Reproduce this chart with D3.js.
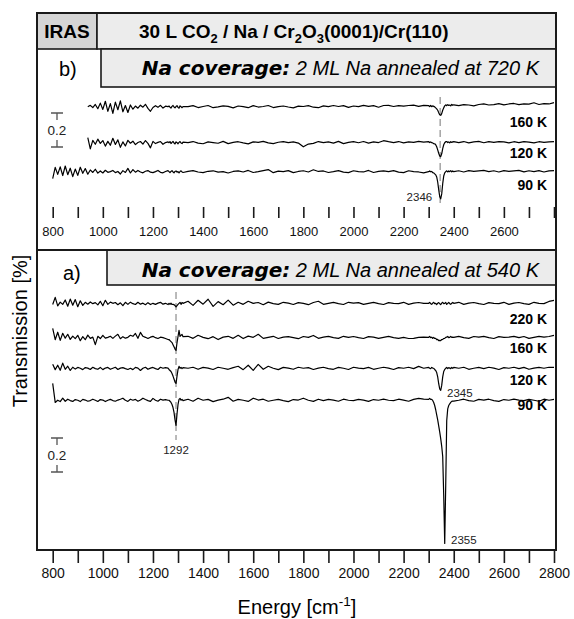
<!doctype html>
<html lang="en">
<head>
<meta charset="utf-8">
<title>IRAS 30 L CO2 / Na / Cr2O3(0001)/Cr(110)</title>
<style>
  body { margin: 0; background: #fff; }
  svg { display: block; font-family: "Liberation Sans", Arial, sans-serif; }
  .frame { fill: none; stroke: #1a1a1a; stroke-width: 2; }
  .box { stroke: #1a1a1a; stroke-width: 1.6; }
  .trace { fill: none; stroke: #000; stroke-width: 1.2; stroke-linejoin: round; }
  .marker { stroke: #a9a9a9; stroke-width: 1.6; stroke-dasharray: 7 4; }
  .axis .domain { display: none; }
  .axis line { stroke: #1a1a1a; stroke-width: 1.6; }
  .axis text { fill: #111; font-family: "Liberation Sans", Arial, sans-serif; }
  .temp { font-weight: bold; font-size: 14px; text-anchor: end; dominant-baseline: central; }
  .peak { font-size: 11.5px; fill: #222; }
  .scalebar path { fill: none; stroke: #555; stroke-width: 1.3; }
  .scalebar text { font-size: 13.5px; fill: #222; text-anchor: middle; dominant-baseline: central; }
</style>
</head>
<body>
<svg id="chart" width="574" height="619"></svg>
<script src="https://d3js.org/d3.v7.min.js"></script>
<script>
// sampling grid in cm-1, denser around the bands
const energy = [].concat(
  d3.range(800, 1261, 10),   // 47 points
  d3.range(1264, 1321, 4),   // 15
  d3.range(1340, 2281, 20),  // 48
  d3.range(2300, 2397, 4),   // 25
  d3.range(2400, 2801, 20)   // 21
);

// transmission change, in units of 0.001 %
// panel b (annealed at 720 K)
const b160 = [
  null,null,null,null,null,null,null,null,null,null,null,null,null,null,
  0,9,-4,14,-11,22,-15,33,-26,19,-38,28,-17,35,-29,8,-33,11,-14,5,-8,10,-2,15,-9,-26,-4,7,-3,9,-7,4,1,
  5,-2,-7,3,8,-1,-6,2,7,-3,-8,6,1,-5,2,
  1,7,-4,2,8,-5,0,6,3,-6, 5,1,-5,7,-1,2,8,-4,1,5, -1,-6,4,2,7,-2,-5,6,1,8, 2,7,-3,5,1,9,3,7,-2,8, 9,2,7,4,8,10,3,9,
  7,2,8,1,6,3,0,-6,-12,-20,-34,-46,-50,-40,-20,-6,6,12,7,13,8,11,6,14,9,
  12,7,13,11,6,14,18,11,13,19,12,17,20,13,18,16,24,14,19,17,25
];
const b120 = [
  null,null,null,null,null,null,null,null,null,null,null,null,null,null,
  30,-36,14,-9,21,-4,13,-20,8,-15,26,-10,17,-27,5,-19,14,-3,9,-11,1,7,-8,13,-4,-30,8,-5,2,7,-9,1,5,
  0,7,-5,2,8,-2,-7,5,1,-6,2,7,-1,-5,4,
  1,7,-2,-6,5,1,-3,8,-5,2, 6,-1,-7,5,2,8,-1,-5,3,7, 1,5,-2,-24,-8,-4,7,1,5,-2, 8,-5,2,6,0,7,-2,5,1,12, 6,1,7,-1,5,2,8,4,
  6,1,5,0,-1,-6,-6,-12,-24,-42,-62,-78,-82,-65,-35,-12,0,6,7,1,5,-1,6,2,5,
  6,1,7,-1,5,8,0,6,2,7,5,-1,6,1,7,4,-1,6,2,5,7
];
const b90 = [
  -40,26,-15,29,-22,34,-17,21,-28,16, -21,27,-9,19,-14,11,-4,15,-8,5, -7,9,-3,1,8,-5,2,-13,7,-4, 20,-7,13,-2,8,-1,-6,3,7,-2, -5,1,8,-3,-6,2,7,
  1,-5,2,7,-1,-6,2,5,-2,1,-7,2,6,-1,-4,
  2,7,-1,-5,3,6,-2,1,-7,2, 5,-1,8,-4,1,7,13,-5,4,1, 7,-5,2,6,-1,12,2,5,-4,1, 7,-2,-5,6,1,-1,8,-4,2,5, 1,7,-2,-5,6,1,-1,-6,
  1,5,0,2,-5,-6,-12,-18,-30,-60,-105,-145,-159,-130,-70,-25,-6,1,6,-1,5,1,7,0,5,
  1,6,-1,7,2,5,8,1,6,-1,7,2,5,8,0,6,1,7,-1,5,7
];
// panel a (annealed at 540 K)
const a220 = [
  -6,36,-14,8,-5,21,-16,26,-10,23, -19,16,-11,7,-4,9,-1,5,-8,13, -13,19,-5,8,1,6,-7,4,-13,7, -5,8,-1,-6,7,-4,2,-7,5,-6, 1,-5,2,7,-4,1,-6,
  1,-5,2,-6,-5,-7,-12,-20,-12,-5,1,7,-5,6,1,
  13,-11,19,-4,25,-17,11,-7,20,-10, 7,-5,13,1,6,-7,8,-1,-5,7, 2,-6,5,1,-7,6,13,-5,1,7, -1,-6,7,2,5,-5,1,7,-1,-6, 5,1,-1,7,-5,2,6,1,
  1,6,-1,-5,2,7,-1,1,-6,2,5,-1,-6,2,7,-1,1,6,-5,1,7,-1,-5,2,6,
  1,7,-5,2,6,-1,-6,5,1,-1,7,-5,2,6,-1,-5,7,1,-1,12,18
];
const a160 = [
  54,-13,31,-17,25,-4,19,-11,8,-7, 13,-19,5,-13,14,-5,2,-42,7,-6, 13,-4,1,7,-5,8,19,-7,5,-4, 1,13,7,24,-5,30,7,1,-6,2, 7,-1,-6,2,-1,-6,-12,
  -12,-18,-24,-30,-42,-55,-68,-76,-30,6,42,7,13,18,5,
  7,-5,13,1,-7,5,-12,2,7,-5, 13,-6,8,1,19,-5,1,7,-6,2, 5,-1,-7,6,1,12,-5,2,7,-1, -5,7,1,6,-1,-6,5,2,-5,1, 7,-1,-5,1,-6,-5,1,2,
  1,6,-1,2,-5,1,-6,-5,-12,-11,-18,-17,-18,-12,-11,-6,-5,1,2,6,-1,1,7,1,2,
  1,7,-1,-5,6,2,7,-1,-6,5,1,2,7,-1,6,-5,1,7,2,6,12
];
const a120 = [
  24,-7,19,-11,31,-5,13,-12,7,-4, 6,1,-7,5,2,-6,7,-1,-5,6, -7,2,6,-5,1,7,-6,2,5,-1, -6,1,-7,6,2,-12,1,7,-5,2, 6,-1,-6,7,1,5,2,
  -6,-12,-18,-30,-45,-62,-80,-88,-45,-6,12,1,6,-1,5,
  1,7,-5,6,2,-6,7,1,-5,5, 13,-7,19,-11,24,-5,13,1,-7,6, 2,-5,7,1,5,-6,2,7,-1,-5, 6,1,-6,7,2,-1,6,-5,1,7, 2,-6,5,1,7,-1,12,1,
  6,1,-1,6,2,1,-6,-12,-24,-50,-90,-120,-129,-100,-50,-18,-6,1,6,-1,5,2,-1,6,1,
  6,1,7,-5,1,6,-1,7,2,-6,5,1,7,-1,6,-5,2,6,1,7,6
];
const a90 = [
  100,-12,1,-7,13,-5,7,-1,-6,5, 1,-7,6,2,-5,-1,7,1,-6,5, 2,-7,1,6,-1,-5,2,7,13,1, -6,7,1,6,-5,2,13,5,-1,-6, 12,1,-5,7,2,5,1,
  1,-5,-12,-24,-42,-70,-115,-147,-80,-24,6,12,1,6,-1,
  7,-5,13,1,6,-7,2,7,18,-5, 6,1,-6,13,2,7,-5,1,6,-1, -7,5,2,13,1,-6,7,-1,6,2, -5,7,1,-1,6,2,-6,5,1,7, 1,-1,7,2,-5,6,12,7,
  6,12,6,6,0,-12,-30,-55,-85,-115,-150,-185,-225,-270,-330,-560,-841,-500,-120,-50,-30,-20,-12,-6,-4,
  -4,1,7,-1,-5,6,2,7,-1,-6,5,1,7,2,-1,6,1,-5,7,1,6
];

// stacking offsets (transmission %) and temperature labels, top to bottom
const seriesB = [b160, b120, b90];
const tempsB = ['160 K', '120 K', '90 K'];
const offsetsB = [0.382, 0.171, 0];
const seriesA = [a220, a160, a120, a90];
const tempsA = ['220 K', '160 K', '120 K', '90 K'];
const offsetsA = [0.57, 0.37, 0.188, 0];

const ticks = d3.range(800, 2801, 100);
const scaleBarValue = 0.2;

const svg = d3.select('#chart');
const frameL = 37, frameR = 556, frameT = 13, frameB = 550;

const x = d3.scaleLinear().domain([800, 2800]).range([52.7, 554]);
const yB = d3.scaleLinear().domain([-0.46, 0.5]).range([250, 86.8]);
const yA = d3.scaleLinear().domain([-0.88, 0.68]).range([550, 284.8]);

// header boxes
svg.append('rect').attr('class', 'box').attr('x', frameL).attr('y', frameT)
  .attr('width', 60).attr('height', 36).attr('fill', '#d5d5d5');
svg.append('rect').attr('class', 'box').attr('x', 97).attr('y', frameT)
  .attr('width', frameR - 97).attr('height', 36).attr('fill', '#ececec');
svg.append('rect').attr('class', 'box').attr('x', 101).attr('y', 49)
  .attr('width', frameR - 101).attr('height', 38).attr('fill', '#ececec');
svg.append('rect').attr('class', 'box').attr('x', 107).attr('y', 250)
  .attr('width', frameR - 107).attr('height', 35).attr('fill', '#ececec');
svg.append('line').attr('x1', frameL).attr('x2', frameR).attr('y1', 250).attr('y2', 250)
  .attr('stroke', '#1a1a1a').attr('stroke-width', 2);
svg.append('rect').attr('class', 'frame').attr('x', frameL).attr('y', frameT)
  .attr('width', frameR - frameL).attr('height', frameB - frameT);

// text with sub / superscripts
function richText(sel, parts) {
  let shift = 0;
  parts.forEach(p => {
    const want = p.sub ? 5 : p.sup ? -8 : 0;
    sel.append('tspan')
      .attr('dy', want - shift)
      .attr('font-size', (p.sub || p.sup) ? '0.68em' : null)
      .text(p.t);
    shift = want;
  });
}

svg.append('text').attr('x', 67).attr('y', 38).attr('text-anchor', 'middle')
  .attr('font-weight', 'bold').attr('font-size', 19).text('IRAS');

richText(svg.append('text').attr('x', 139).attr('y', 38)
  .attr('font-weight', 'bold').attr('font-size', 19), [
  { t: '30 L CO' }, { t: '2', sub: true }, { t: ' / Na / Cr' }, { t: '2', sub: true },
  { t: 'O' }, { t: '3', sub: true }, { t: '(0001)/Cr(110)' }
]);

function subtitle(y, text) {
  const t = svg.append('text').attr('x', 539).attr('y', y)
    .attr('text-anchor', 'end').attr('font-size', 20);
  t.append('tspan').attr('font-family', '"DejaVu Sans", sans-serif')
    .attr('font-weight', 'bold').attr('font-style', 'italic').text('Na coverage:');
  t.append('tspan').attr('font-style', 'italic').text(text);
}
subtitle(75, ' 2 ML Na annealed at 720 K');
subtitle(277, ' 2 ML Na annealed at 540 K');

svg.append('text').attr('x', 59).attr('y', 76).attr('font-size', 20).text('b)');
svg.append('text').attr('x', 63).attr('y', 280).attr('font-size', 20).text('a)');

// dashed band markers
svg.append('line').attr('class', 'marker')
  .attr('x1', x(2346)).attr('x2', x(2346)).attr('y1', 97).attr('y2', 207);
svg.append('line').attr('class', 'marker')
  .attr('x1', x(1292)).attr('x2', x(1292)).attr('y1', 292).attr('y2', 440);

function drawTraces(series, offsets, temps, y, labelDy) {
  const g = svg.append('g');
  series.forEach((vals, i) => {
    const pts = energy.map((e, j) => [e, vals[j]]);
    const line = d3.line()
      .defined(d => d[1] != null)
      .x(d => x(d[0]))
      .y(d => y(offsets[i] + d[1] / 1000));
    g.append('path').attr('class', 'trace').attr('d', line(pts));
    g.append('text').attr('class', 'temp')
      .attr('x', 547).attr('y', y(offsets[i]) + labelDy[i]).text(temps[i]);
  });
}
drawTraces(seriesB, offsetsB, tempsB, yB, [15, 10.5, 13]);
drawTraces(seriesA, offsetsA, tempsA, yA, [15, 10.5, 11.5, 4.5]);

// band labels
svg.append('text').attr('class', 'peak').attr('x', x(2346) - 8).attr('y', 201)
  .attr('text-anchor', 'end').text('2346');
svg.append('text').attr('class', 'peak').attr('x', x(1292)).attr('y', 454)
  .attr('text-anchor', 'middle').text('1292');
svg.append('text').attr('class', 'peak').attr('x', 447).attr('y', 397).text('2345');
svg.append('text').attr('class', 'peak').attr('x', 451).attr('y', 544).text('2355');

// 0.2 scale bars
function scaleBar(y, topPx) {
  const len = y(0) - y(scaleBarValue);
  const cx = 57, b = topPx + len;
  const g = svg.append('g').attr('class', 'scalebar');
  g.append('path').attr('d',
    `M${cx - 6},${topPx}H${cx + 6}M${cx},${topPx}V${topPx + 7}` +
    `M${cx},${b - 7}V${b}M${cx - 6},${b}H${cx + 6}`);
  g.append('text').attr('x', cx).attr('y', topPx + len / 2).text(scaleBarValue);
}
scaleBar(yB, 113);
scaleBar(yA, 438);

// axes
const axisB = d3.axisBottom(x).tickValues(ticks).tickSize(11).tickPadding(8.5)
  .tickFormat(d => (d % 200 === 0 && d < 2800) ? d : '');
svg.append('g').attr('class', 'axis').attr('transform', 'translate(0,207)')
  .call(axisB).selectAll('text').attr('font-size', 13);

const axisA = d3.axisBottom(x).tickValues(ticks).tickSize(13).tickPadding(5)
  .tickFormat(d => d % 200 === 0 ? d : '');
svg.append('g').attr('class', 'axis').attr('transform', `translate(0,${frameB})`)
  .call(axisA).selectAll('text').attr('font-size', 14);

richText(svg.append('text').attr('x', 297).attr('y', 614)
  .attr('text-anchor', 'middle').attr('font-size', 20), [
  { t: 'Energy [cm' }, { t: '-1', sup: true }, { t: ']' }
]);

svg.append('text').attr('transform', 'translate(27,331) rotate(-90)')
  .attr('text-anchor', 'middle').attr('font-size', 20).text('Transmission [%]');
</script>
</body>
</html>
